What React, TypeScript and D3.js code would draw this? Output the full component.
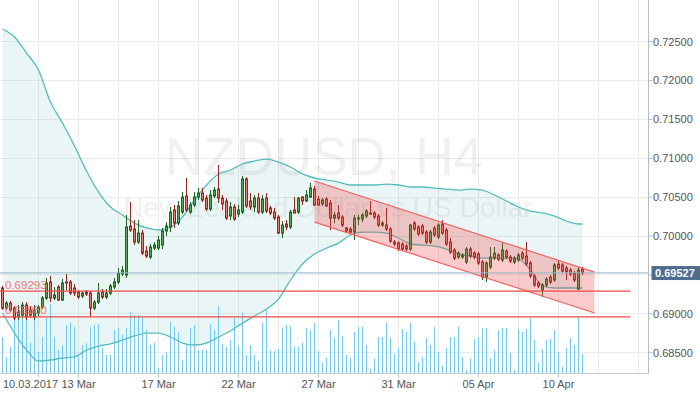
import React from "react";
import * as d3 from "d3";

// NZDUSD H4 candles
const opens = [
  0.69332, 0.69074, 0.69138, 0.69074, 0.68959, 0.68985, 0.69113, 0.69049, 0.68959, 0.6901,
  0.69087, 0.69203, 0.69409, 0.69203, 0.69345, 0.69177, 0.69409, 0.69409, 0.69332, 0.6928,
  0.69229, 0.6928, 0.69267, 0.69074, 0.69151, 0.6928, 0.69216, 0.69267, 0.69345, 0.69409,
  0.69512, 0.69499, 0.70129, 0.70091, 0.69923, 0.70039, 0.69807, 0.6973, 0.69846, 0.69846,
  0.69885, 0.70065, 0.70116, 0.70335, 0.70167, 0.70309, 0.70515, 0.70309, 0.704, 0.70502,
  0.70553, 0.70489, 0.70348, 0.70515, 0.70605, 0.70489, 0.70451, 0.70258, 0.70374, 0.70284,
  0.70309, 0.70734, 0.70451, 0.70374, 0.70489, 0.70309, 0.70489, 0.70361, 0.70309, 0.70245,
  0.70039, 0.70155, 0.70116, 0.70335, 0.70309, 0.70502, 0.70451, 0.70502, 0.70605, 0.70476,
  0.70413, 0.70476, 0.70425, 0.70232, 0.70296, 0.70245, 0.70104, 0.70091, 0.70052, 0.70219,
  0.70219, 0.70258, 0.70296, 0.70296, 0.70258, 0.70142, 0.70142, 0.70091, 0.69923, 0.6991,
  0.69898, 0.69872, 0.69833, 0.70167, 0.70116, 0.70129, 0.70052, 0.69923, 0.70104, 0.69988,
  0.70155, 0.70078, 0.69923, 0.6982, 0.6973, 0.6973, 0.69666, 0.69833, 0.69781, 0.69769,
  0.69666, 0.69473, 0.69602, 0.69717, 0.69756, 0.69692, 0.69807, 0.6973, 0.69666, 0.69692,
  0.69781, 0.69743, 0.69653, 0.69486, 0.69396, 0.69306, 0.69371, 0.69473, 0.69435, 0.69641,
  0.69628, 0.69589, 0.69563, 0.69524, 0.69319, 0.69576,
];
const highs = [
  0.69358, 0.69164, 0.69164, 0.691, 0.69113, 0.69151, 0.69151, 0.691, 0.69113, 0.69113,
  0.69229, 0.6946, 0.69486, 0.69345, 0.69371, 0.69447, 0.69512, 0.69435, 0.69384, 0.69306,
  0.69293, 0.69306, 0.69293, 0.69177, 0.69396, 0.69319, 0.69319, 0.69384, 0.6946, 0.69589,
  0.69615, 0.70271, 0.70438, 0.70206, 0.70206, 0.70078, 0.69872, 0.69898, 0.69923, 0.70001,
  0.70104, 0.7018, 0.70374, 0.704, 0.70451, 0.70566, 0.70747, 0.70438, 0.70566, 0.70618,
  0.70618, 0.70528, 0.70592, 0.70631, 0.70914, 0.70528, 0.70489, 0.70438, 0.70413, 0.704,
  0.70773, 0.7076, 0.70553, 0.70528, 0.70553, 0.70528, 0.70553, 0.70387, 0.70361, 0.70271,
  0.70193, 0.70206, 0.70335, 0.70502, 0.70502, 0.70515, 0.70592, 0.70682, 0.70644, 0.70515,
  0.70489, 0.70502, 0.70464, 0.70309, 0.704, 0.70271, 0.70116, 0.70116, 0.70271, 0.70271,
  0.70296, 0.70348, 0.70451, 0.70322, 0.70284, 0.70193, 0.70361, 0.70116, 0.69949, 0.69936,
  0.69923, 0.69898, 0.70155, 0.70193, 0.70142, 0.70155, 0.70078, 0.70078, 0.70129, 0.70167,
  0.70206, 0.70104, 0.69975, 0.69846, 0.69807, 0.69781, 0.69859, 0.69859, 0.69807, 0.69794,
  0.69692, 0.69679, 0.69859, 0.69859, 0.69781, 0.6991, 0.69833, 0.69756, 0.69743, 0.69781,
  0.69807, 0.69923, 0.69679, 0.69512, 0.69422, 0.69396, 0.69473, 0.69499, 0.69653, 0.69692,
  0.69653, 0.69615, 0.69589, 0.6955, 0.69602, 0.69602,
];
const lows = [
  0.69049, 0.69049, 0.69023, 0.6892, 0.6892, 0.68946, 0.6892, 0.68946, 0.6892, 0.68972,
  0.69062, 0.69177, 0.69151, 0.69177, 0.69164, 0.69164, 0.69306, 0.69242, 0.69229, 0.6919,
  0.69203, 0.69229, 0.68959, 0.69049, 0.69126, 0.6919, 0.6919, 0.69242, 0.69319, 0.69384,
  0.69486, 0.6946, 0.70052, 0.69885, 0.69898, 0.69756, 0.69717, 0.69704, 0.6982, 0.6982,
  0.69833, 0.70001, 0.70052, 0.70104, 0.70142, 0.70284, 0.70309, 0.70284, 0.70374, 0.70464,
  0.70438, 0.70322, 0.70322, 0.70489, 0.70425, 0.70335, 0.70206, 0.70206, 0.70193, 0.70245,
  0.70284, 0.70361, 0.70335, 0.70309, 0.70284, 0.70284, 0.70296, 0.70271, 0.70206, 0.70027,
  0.69975, 0.70078, 0.70091, 0.70296, 0.70284, 0.704, 0.70438, 0.70489, 0.70387, 0.70387,
  0.70387, 0.70374, 0.70078, 0.70167, 0.70206, 0.70116, 0.70039, 0.70027, 0.69949, 0.70142,
  0.7018, 0.70232, 0.70271, 0.70219, 0.70116, 0.70116, 0.70065, 0.6991, 0.69872, 0.69807,
  0.69807, 0.69807, 0.69807, 0.70065, 0.70001, 0.70014, 0.69898, 0.69898, 0.69988, 0.69962,
  0.70014, 0.69872, 0.69769, 0.69692, 0.69704, 0.69704, 0.69641, 0.69717, 0.69704, 0.69628,
  0.69435, 0.69409, 0.69576, 0.69692, 0.69679, 0.69666, 0.69704, 0.69653, 0.69641, 0.69666,
  0.69692, 0.69615, 0.6946, 0.69345, 0.69332, 0.69216, 0.69345, 0.69384, 0.69409, 0.69563,
  0.69524, 0.69435, 0.69486, 0.69409, 0.69306, 0.69499,
];
const closes = [
  0.69074, 0.69138, 0.69049, 0.68946, 0.69023, 0.69113, 0.68959, 0.68985, 0.69049, 0.69087,
  0.69203, 0.69396, 0.69203, 0.69242, 0.69177, 0.69396, 0.69396, 0.69267, 0.69267, 0.69216,
  0.69267, 0.69255, 0.69074, 0.69151, 0.69267, 0.69216, 0.69267, 0.69358, 0.69409, 0.69524,
  0.69563, 0.70116, 0.70078, 0.69923, 0.70039, 0.69781, 0.69743, 0.69859, 0.69885, 0.69949,
  0.70065, 0.70129, 0.70309, 0.70167, 0.70387, 0.70502, 0.70335, 0.704, 0.70502, 0.70553,
  0.70464, 0.70348, 0.70528, 0.70592, 0.70489, 0.70413, 0.70232, 0.70374, 0.70219, 0.70335,
  0.70734, 0.70387, 0.70374, 0.70489, 0.70309, 0.70476, 0.70322, 0.70296, 0.70232, 0.70039,
  0.70142, 0.70116, 0.70309, 0.70296, 0.70489, 0.70451, 0.70528, 0.70618, 0.704, 0.704,
  0.70464, 0.70387, 0.70232, 0.70271, 0.70232, 0.70142, 0.70065, 0.70052, 0.70232, 0.70232,
  0.70271, 0.70322, 0.70284, 0.70245, 0.70142, 0.70167, 0.70091, 0.69936, 0.69898, 0.69833,
  0.69833, 0.69833, 0.70142, 0.70091, 0.70027, 0.70039, 0.69923, 0.70052, 0.70014, 0.70142,
  0.70039, 0.69898, 0.69794, 0.69717, 0.69781, 0.69756, 0.69833, 0.69743, 0.6973, 0.69653,
  0.69473, 0.69653, 0.6973, 0.69781, 0.69704, 0.6982, 0.6973, 0.69679, 0.69717, 0.69756,
  0.69717, 0.69641, 0.69486, 0.69371, 0.69358, 0.69371, 0.69447, 0.69409, 0.69628, 0.69589,
  0.6955, 0.69537, 0.69512, 0.69435, 0.69563, 0.69527,
];
const volumes = [
  900, 400, 650, 1375, 1375, 1500, 1400, 750, 1375, 525,
  900, 1375, 1725, 900, 575, 700, 1200, 1275, 1150, 400,
  700, 750, 1150, 1200, 1225, 625, 450, 450, 1075, 1125,
  950, 1125, 1525, 1450, 1450, 1375, 1075, 700, 750, 125,
  450, 525, 1275, 1150, 1025, 325, 700, 1125, 1200, 575,
  575, 575, 1225, 1075, 1675, 725, 650, 825, 1400, 675,
  1525, 450, 700, 450, 300, 1250, 1575, 575, 550, 600,
  1125, 1200, 1175, 650, 650, 750, 1125, 1075, 1250, 550,
  250, 375, 1075, 875, 1325, 925, 450, 375, 1025, 1150,
  1150, 700, 100, 350, 900, 900, 1250, 875, 475, 625,
  1100, 1025, 1250, 775, 275, 400, 875, 700, 1150, 525,
  175, 625, 900, 900, 1150, 400, 75, 350, 850, 900,
  1125, 1125, 375, 575, 1075, 1125, 1125, 500, 75, 1100,
  1025, 1100, 1375, 825, 250, 600, 825, 850, 1075, 525,
  150, 625, 875, 700, 1400, 475,
];

// Bollinger band readings, every third bar
const bandIdx = [
  0, 3, 6, 9, 12, 15, 18, 21, 24, 27, 30, 33, 36, 39, 42, 45, 48, 51, 54, 57,
  60, 63, 66, 69, 72, 75, 78, 81, 84, 87, 90, 93, 96, 99, 102, 105, 108, 111, 114, 117,
  120, 123, 126, 129, 132, 135, 138, 141, 144, 145,
];
const upperBand = [
  0.72663, 0.7256, 0.72354, 0.72136, 0.71724, 0.71454, 0.71159, 0.70837, 0.70566, 0.70374,
  0.70271, 0.70167, 0.70104, 0.70078, 0.70116, 0.70245, 0.70464, 0.70657, 0.70799, 0.7085,
  0.70927, 0.70965, 0.70991, 0.70952, 0.70888, 0.70799, 0.70747, 0.70721, 0.70695, 0.70657,
  0.70657, 0.70657, 0.70669, 0.70657, 0.70631, 0.70631, 0.70618, 0.70605, 0.70592, 0.70605,
  0.70592, 0.70528, 0.70451, 0.70374, 0.70322, 0.70296, 0.70258, 0.70193, 0.70155, 0.70155,
];
const lowerBand = [
  0.6901, 0.68753, 0.68535, 0.68393, 0.68406, 0.68432, 0.68445, 0.68535, 0.68586, 0.68612,
  0.68663, 0.68715, 0.68753, 0.68753, 0.68702, 0.68624, 0.68599, 0.68624, 0.68702, 0.68779,
  0.68881, 0.68972, 0.69061, 0.6919, 0.69435, 0.69641, 0.69769, 0.69846, 0.6991, 0.70014,
  0.70052, 0.70052, 0.70039, 0.69975, 0.69898, 0.69885, 0.69872, 0.69833, 0.69769, 0.69743,
  0.69717, 0.69717, 0.69717, 0.69704, 0.69563, 0.69358, 0.69332, 0.69332, 0.69332, 0.69332,
];

const priceTicks = [0.685, 0.69, 0.695, 0.7, 0.705, 0.71, 0.715, 0.72, 0.725];
const gridBars = [9, 19, 29, 39, 49, 59, 69, 79, 89, 99, 109, 119, 129, 139, 149, 159];
const dateBars = [9, 19, 39, 59, 79, 99, 119, 139];
const dateLabels = ["10.03.2017", "13 Mar", "17 Mar", "22 Mar", "27 Mar", "31 Mar", "05 Apr", "10 Apr"];

const levelPrices = [0.69293, 0.6896];
const levelEndBar = 157;
const channelBars = [78, 148];
const channelUpper = [0.70708, 0.69537];
const channelLower = [0.7018, 0.6901];
const lastPrice = 0.69527;

const font = "'Liberation Sans', Arial, sans-serif";

export default function App() {
  const width = 700;
  const height = 394;
  const plotRight = 648.5;
  const plotBottom = 373.5;

  const x = d3.scaleLinear().domain([0, 145]).range([2.5, 582.5]);
  const y = d3.scaleLinear().domain([0.685, 0.725]).range([352.7, 41.7]);
  const vol = d3.scaleLinear().domain([0, 2000]).range([373, 293]);

  const bandArea = d3
    .area<number>()
    .x((d) => x(bandIdx[d]))
    .y0((d) => y(lowerBand[d]))
    .y1((d) => y(upperBand[d]))
    .curve(d3.curveMonotoneX);
  const upperLine = d3
    .line<number>()
    .x((d) => x(bandIdx[d]))
    .y((d) => y(upperBand[d]))
    .curve(d3.curveMonotoneX);
  const lowerLine = d3
    .line<number>()
    .x((d) => x(bandIdx[d]))
    .y((d) => y(lowerBand[d]))
    .curve(d3.curveMonotoneX);
  const bandIdxs = bandIdx.map((_, i) => i);

  const chPts: [number, number][] = [
    [x(channelBars[0]), y(channelUpper[0])],
    [x(channelBars[1]), y(channelUpper[1])],
    [x(channelBars[1]), y(channelLower[1])],
    [x(channelBars[0]), y(channelLower[0])],
  ];

  // the last-price tag hides the axis label it sits on
  const tagY = y(lastPrice);
  const shownTicks = priceTicks.filter((t) => Math.abs(y(t) - tagY) > 10);

  return (
    <svg
      width={width}
      height={height}
      style={{ position: "fixed", left: 0, top: 0, background: "#fff", display: "block" }}
      fontFamily={font}
    >
      <rect width={width} height={height} fill="#fff" />

      {/* grid */}
      <g stroke="#ebebeb" strokeWidth={1} shapeRendering="crispEdges">
        {priceTicks.map((t) => (
          <line key={"h" + t} x1={0} x2={plotRight} y1={y(t)} y2={y(t)} />
        ))}
        {gridBars.map((b) => (
          <line key={"v" + b} x1={x(b)} x2={x(b)} y1={0} y2={plotBottom} />
        ))}
      </g>

      {/* watermark */}
      <g fill="#000" opacity={0.055} textAnchor="middle">
        <text x={324} y={175} fontSize={53}>NZDUSD, H4</text>
        <text x={328} y={217} fontSize={28}>New Zealand Dollar vs US Dollar</text>
      </g>

      {/* bollinger fill */}
      <path d={bandArea(bandIdxs) || ""} fill="rgba(80,180,180,0.12)" />

      {/* volumes */}
      <g fill="#74caf2" shapeRendering="crispEdges">
        {volumes.map((v, i) => (
          <rect key={i} x={x(i) - 0.5} width={1.2} y={vol(v)} height={373 - vol(v)} />
        ))}
      </g>

      {/* bollinger lines */}
      <g fill="none" stroke="#56bcbc" strokeWidth={1.3}>
        <path d={upperLine(bandIdxs) || ""} />
        <path d={lowerLine(bandIdxs) || ""} />
      </g>

      {/* candles */}
      <g>
        {closes.map((c, i) => {
          const o = opens[i];
          const up = c >= o;
          const top = y(Math.max(o, c));
          const bot = y(Math.min(o, c));
          const cx = x(i);
          const dark = up ? "#1f641f" : "#9a2420";
          return (
            <g key={i}>
              <line x1={cx} x2={cx} y1={y(highs[i])} y2={y(lows[i])} stroke={dark} strokeWidth={1} />
              <rect
                x={cx - 1}
                width={2}
                y={top}
                height={Math.max(bot - top, 1)}
                fill={up ? "#58aa58" : "#ee7c6e"}
                stroke={dark}
                strokeWidth={1}
              />
            </g>
          );
        })}
      </g>

      {/* regression channel */}
      <polygon points={chPts.map((p) => p.join(",")).join(" ")} fill="rgba(240,70,70,0.28)" />
      <g stroke="#f26262" strokeWidth={1.2}>
        <line x1={chPts[0][0]} y1={chPts[0][1]} x2={chPts[1][0]} y2={chPts[1][1]} />
        <line x1={chPts[3][0]} y1={chPts[3][1]} x2={chPts[2][0]} y2={chPts[2][1]} />
      </g>

      {/* last price line */}
      <line x1={0} x2={plotRight} y1={tagY} y2={tagY} stroke="#98b6cb" strokeWidth={1} />

      {/* horizontal levels */}
      {levelPrices.map((p) => (
        <g key={p}>
          <line x1={0} x2={x(levelEndBar)} y1={y(p)} y2={y(p)} stroke="#f04848" strokeWidth={1.2} />
          <text x={5} y={y(p) - 2.5} fontSize={11.5} fill="#f06a6a" opacity={0.9}>
            {p.toFixed(5)}
          </text>
        </g>
      ))}

      {/* right price axis */}
      <line x1={plotRight} x2={plotRight} y1={0} y2={plotBottom} stroke="#b4bcc4" shapeRendering="crispEdges" />
      {priceTicks.map((t) => (
        <line key={"tk" + t} x1={plotRight} x2={plotRight + 4} y1={y(t)} y2={y(t)} stroke="#b4bcc4" />
      ))}
      {shownTicks.map((t) => (
        <text key={"pt" + t} x={653} y={y(t)} dy="0.35em" fontSize={11} fill="#555">
          {t.toFixed(5)}
        </text>
      ))}
      <rect x={651.5} y={tagY - 6.8} width={49} height={14} fill="#4d6d8e" />
      <text x={655} y={tagY} dy="0.36em" fontSize={11} fontWeight="bold" fill="#fff">
        {lastPrice.toFixed(5)}
      </text>

      {/* bottom date axis */}
      <line x1={0} x2={plotRight} y1={plotBottom} y2={plotBottom} stroke="#c4c8cc" shapeRendering="crispEdges" />
      {dateBars.map((b, i) => (
        <g key={"d" + b}>
          <line x1={x(b)} x2={x(b)} y1={plotBottom} y2={plotBottom + 4} stroke="#c4c8cc" />
          <text x={x(b) - (i === 0 ? 8 : 0)} y={388} textAnchor="middle" fontSize={11} fill="#555">
            {dateLabels[i]}
          </text>
        </g>
      ))}
    </svg>
  );
}
